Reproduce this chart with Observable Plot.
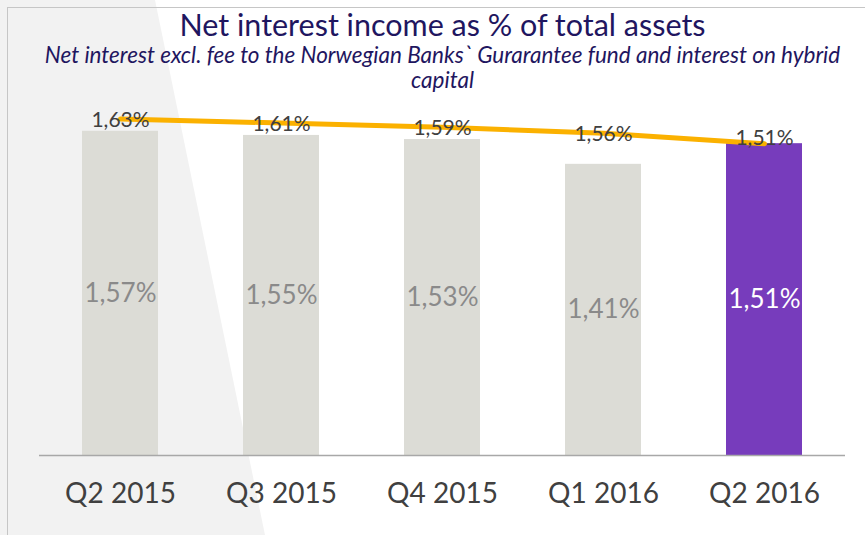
<!DOCTYPE html>
<html>
<head>
<meta charset="utf-8">
<script src="https://cdn.jsdelivr.net/npm/d3@7"></script>
<script src="https://cdn.jsdelivr.net/npm/@observablehq/plot@0.6"></script>
<style>
  html, body { margin: 0; padding: 0; background: #ffffff; }
  #wrap { position: relative; width: 865px; height: 535px; overflow: hidden; font-family: Lato, "Open Sans", sans-serif; }
  #bgshape { position: absolute; left: 0; top: 0; width: 865px; height: 535px; background: #f2f2f2;
    clip-path: polygon(0 0, 155px 0, 265px 535px, 0 535px); }
  #frame { position: absolute; left: 7px; top: 7px; width: 870px; height: 540px;
    border-top: 1.5px solid #c6c6c6; border-left: 1.5px solid #c6c6c6; }
  #chart { position: absolute; left: 0; top: 0; }
</style>
</head>
<body>
<div id="wrap">
  <div id="bgshape"></div>
  <div id="frame"></div>
  <div id="chart"></div>
</div>
<script>
const title = "Net interest income as % of total assets";
const subtitle = "Net interest excl. fee to the Norwegian Banks` Gurarantee fund and interest on hybrid\ncapital";
const quarters = ["Q2 2015", "Q3 2015", "Q4 2015", "Q1 2016", "Q2 2016"];
const barValues = [1.57, 1.55, 1.53, 1.41, 1.51];
const lineValues = [1.63, 1.61, 1.59, 1.56, 1.51];
const highlight = [false, false, false, false, true];

const fmt = v => v.toFixed(2).replace(".", ",") + "%";
const rows = quarters.map((q, i) => ({q, bar: barValues[i], line: lineValues[i], hi: highlight[i]}));

const plot = Plot.plot({
  width: 865,
  height: 535,
  marginLeft: 39,
  marginRight: 20,
  marginTop: 42,
  marginBottom: 80,
  style: {background: "transparent", fontFamily: "Lato, 'Open Sans', sans-serif", overflow: "visible"},
  x: {domain: quarters, paddingInner: 0.53, paddingOuter: 0.265, label: null},
  y: {domain: [0, 2.0], axis: null},
  marks: [
    Plot.barY(rows, {x: "q", y: "bar", fill: d => d.hi ? "#773cbc" : "#dcdcd6"}),
    Plot.ruleY([0], {stroke: "#a8a8a8", strokeWidth: 1.5}),
    Plot.text(rows, {x: "q", y: d => d.bar / 2, text: d => fmt(d.bar),
      fill: d => d.hi ? "#ffffff" : "#8a8a8a", fontSize: 26}),
    Plot.line(rows, {x: "q", y: "line", stroke: "#fbb100", strokeWidth: 5, curve: "linear"}),
    Plot.text(rows.filter(d => !d.hi), {x: "q", y: "line", text: d => fmt(d.line), fill: "#404040", fontSize: 21, dy: 1}),
    Plot.text(rows.filter(d => d.hi), {x: "q", y: "line", text: d => fmt(d.line), fill: "#404040", fontSize: 21,
      lineAnchor: "bottom", dy: 1}),
    Plot.axisX({tickSize: 0, tickPadding: 28, fontSize: 28, color: "#404040", label: null}),
    Plot.text([title], {frameAnchor: "top", text: d => d, dy: -28, fontSize: 30.5, fill: "#1f1660", lineAnchor: "top"}),
    Plot.text([subtitle], {frameAnchor: "top", text: d => d, dy: 3, fontSize: 22.5, fontStyle: "italic",
      fill: "#1f1660", lineAnchor: "top", lineHeight: 1.1})
  ]
});
document.getElementById("chart").appendChild(plot);
</script>
</body>
</html>
